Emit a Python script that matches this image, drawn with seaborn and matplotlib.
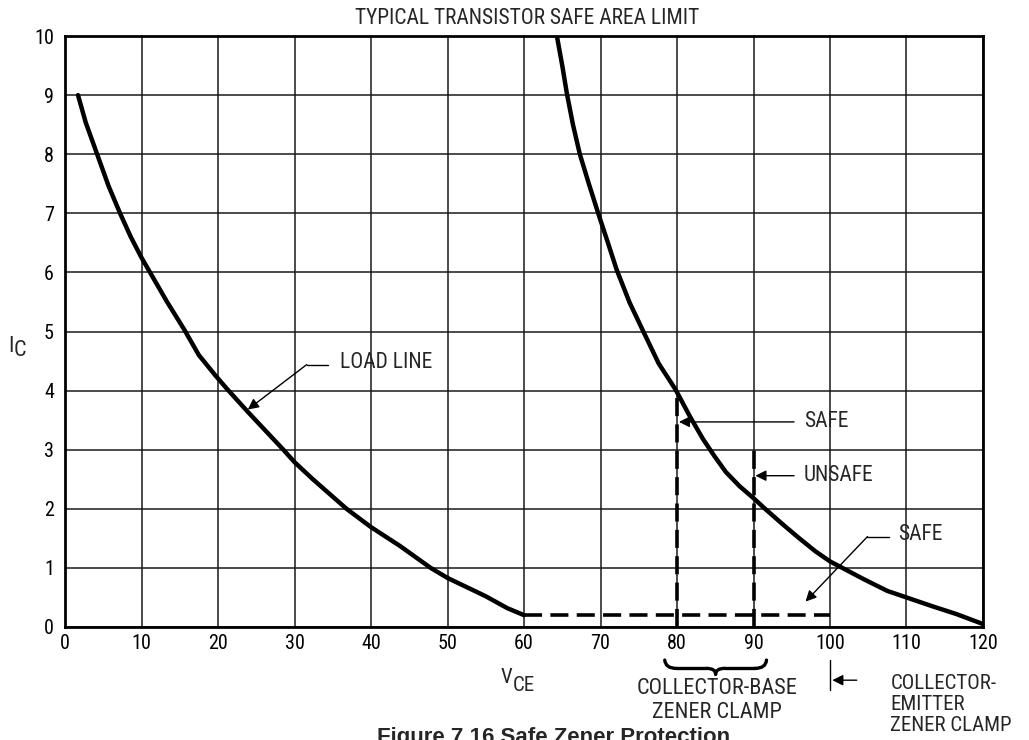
import matplotlib
matplotlib.use("Agg")
import matplotlib.pyplot as plt
from matplotlib.path import Path
from matplotlib.patches import PathPatch
import seaborn as sns
import pandas as pd

# ---------------- data ----------------
load_v = [1.7, 2.7, 4.2, 5.7, 7.2, 8.6, 10.0, 13.3, 15.6, 17.5, 19.7, 21.1, 23.9, 28.4,
          30.0, 32.4, 36.8, 40.0, 43.8, 47.8, 50.0, 55.0, 57.8, 60.0]
load_i = [9.0, 8.54, 8.0, 7.46, 7.0, 6.6, 6.25, 5.51, 5.03, 4.6, 4.25, 4.04, 3.64, 3.02,
          2.79, 2.5, 2.0, 1.69, 1.37, 1.0, 0.83, 0.52, 0.32, 0.2]

safe_v = [64.3, 65.0, 65.6, 66.4, 67.3, 68.5, 69.7, 71.0, 72.1, 73.8, 75.6, 77.6, 79.8,
          81.7, 83.4, 84.9, 86.4, 88.2, 90.0, 91.6, 93.8, 95.9, 98.1, 100.0, 102.2, 104.4,
          107.5, 110.0, 113.4, 116.5, 120.0]
safe_i = [10.0, 9.5, 9.03, 8.5, 8.0, 7.49, 7.0, 6.49, 6.05, 5.49, 5.0, 4.46, 4.02,
          3.56, 3.18, 2.89, 2.62, 2.38, 2.18, 1.99, 1.74, 1.51, 1.28, 1.11, 0.96, 0.81,
          0.61, 0.5, 0.35, 0.22, 0.05]

clamp_h_v = [60, 100]
clamp_h_i = [0.2, 0.2]
cb_clamp_v = [80, 90]          # collector-base zener clamp voltages
cb_clamp_top = [3.93, 3.05]    # tops of dashed verticals
ce_clamp_v = 100               # collector-emitter zener clamp

x_ticks = list(range(0, 121, 10))
y_ticks = list(range(0, 11, 1))

title = "TYPICAL TRANSISTOR SAFE AREA LIMIT"
caption = "Figure 7.16 Safe Zener Protection"

# ---------------- style ----------------
sns.set_theme(style="white")
plt.rcParams["font.family"] = ["Roboto Condensed", "Liberation Sans", "DejaVu Sans"]
plt.rcParams["axes.unicode_minus"] = False

fig = plt.figure(figsize=(10.29, 7.40), dpi=100)
W, H = 1029, 740
ax = fig.add_axes([65 / W, 1 - 627 / H, (983 - 65) / W, (627 - 36) / H])

ax.set_xlim(0, 120)
ax.set_ylim(0, 10)
ax.set_xticks(x_ticks)
ax.set_yticks(y_ticks)
ax.set_xticklabels([str(t) for t in x_ticks], fontsize=14.5)
ax.set_yticklabels([str(t) for t in y_ticks], fontsize=14.5)
ax.tick_params(axis="both", length=0, colors="black")
ax.tick_params(axis="x", pad=5)
ax.tick_params(axis="y", pad=8)
ax.grid(True, color="#1a1a1a", lw=1.1)
ax.set_axisbelow(True)
for s in ax.spines.values():
    s.set_color("black")
    s.set_linewidth(2)

ink = "black"

# curves
df_load = pd.DataFrame({"V": load_v, "I": load_i})
df_safe = pd.DataFrame({"V": safe_v, "I": safe_i})
sns.lineplot(data=df_load, x="V", y="I", sort=False, estimator=None, color=ink, lw=3.2, ax=ax)
sns.lineplot(data=df_safe, x="V", y="I", sort=False, estimator=None, color=ink, lw=3.2, ax=ax)
ax.set_xlabel("")
ax.set_ylabel("")

dash = (0, (5, 2.3))
ax.plot(clamp_h_v, clamp_h_i, color=ink, lw=2.6, linestyle=dash)
for v, top in zip(cb_clamp_v, cb_clamp_top):
    ax.plot([v, v], [0, top], color=ink, lw=2.6, linestyle=dash)

# annotations
arrow = dict(arrowstyle="-|>", color=ink, lw=1.0, mutation_scale=16, shrinkA=0, shrinkB=0)
fs = 15.5

ax.annotate("", xy=(80.25, 3.47), xytext=(95.3, 3.47), arrowprops=arrow)
ax.text(96.6, 3.47, "SAFE", fontsize=fs, va="center", ha="left")

ax.annotate("", xy=(90.25, 2.56), xytext=(95.3, 2.56), arrowprops=arrow)
ax.text(96.6, 2.56, "UNSAFE", fontsize=fs, va="center", ha="left")

ax.plot([104.9, 107.7], [1.53, 1.53], color=ink, lw=1.0)
ax.annotate("", xy=(96.8, 0.43), xytext=(104.9, 1.53), arrowprops=arrow)
ax.text(108.9, 1.56, "SAFE", fontsize=fs, va="center", ha="left")

ax.plot([31.6, 34.4], [4.44, 4.44], color=ink, lw=1.0)
ax.annotate("", xy=(23.9, 3.68), xytext=(31.6, 4.44), arrowprops=arrow)
ax.text(36.0, 4.47, "LOAD LINE", fontsize=fs, va="center", ha="left")

# title
fig.text(527 / W, 1 - 18 / H, title, ha="center", va="center", fontsize=15.5)

# axis labels (raised first letter)
fig.text(11 / W, 1 - 346 / H, "I", ha="center", va="center", fontsize=16)
fig.text(20 / W, 1 - 351 / H, "C", ha="center", va="center", fontsize=16)
ax.text(58.5, -0.86, "V", ha="right", va="center", fontsize=15, clip_on=False)
ax.text(58.5, -0.99, "CE", ha="left", va="center", fontsize=15, clip_on=False)

# brace under 80-90
bx0, bx1, bm = 78.4, 91.7, 85.05
yt, ym, yb = -0.56, -0.70, -0.80
pieces = [
    ([(bx0, yt), (bx0 + 0.1, ym), (bx0 + 1.5, ym)], [Path.MOVETO, Path.CURVE3, Path.CURVE3]),
    ([(bx0 + 1.5, ym), (bm - 1.2, ym)], [Path.MOVETO, Path.LINETO]),
    ([(bm - 1.2, ym), (bm, ym), (bm, yb)], [Path.MOVETO, Path.CURVE3, Path.CURVE3]),
    ([(bm, yb), (bm, ym), (bm + 1.2, ym)], [Path.MOVETO, Path.CURVE3, Path.CURVE3]),
    ([(bm + 1.2, ym), (bx1 - 1.5, ym)], [Path.MOVETO, Path.LINETO]),
    ([(bx1 - 1.5, ym), (bx1 - 0.1, ym), (bx1, yt)], [Path.MOVETO, Path.CURVE3, Path.CURVE3]),
]
for vs, cs in pieces:
    ax.add_patch(PathPatch(Path(vs, cs), fill=False, lw=2.4, color=ink, clip_on=False,
                           capstyle="round"))

ax.text(85.2, -0.86, "COLLECTOR-BASE\nZENER CLAMP", ha="center", va="top", fontsize=16,
        linespacing=1.2, clip_on=False)

# collector-emitter clamp marker
ax.plot([ce_clamp_v, ce_clamp_v], [-0.56, -1.07], color=ink, lw=1.0, clip_on=False)
ax.annotate("", xy=(100.3, -0.9), xytext=(103.5, -0.9), arrowprops=arrow, annotation_clip=False)
ax.text(107.9, -0.80, "COLLECTOR-\nEMITTER\nZENER CLAMP", ha="left", va="top", fontsize=15,
        linespacing=1.12, clip_on=False)

# caption (partly cut at bottom edge as in the reference)
fig.text(554 / W, 1 - 727 / H, caption, ha="center", va="top", fontsize=16,
         fontweight="bold", family=["Liberation Sans", "DejaVu Sans"])

fig.savefig("out.png", dpi=100)
